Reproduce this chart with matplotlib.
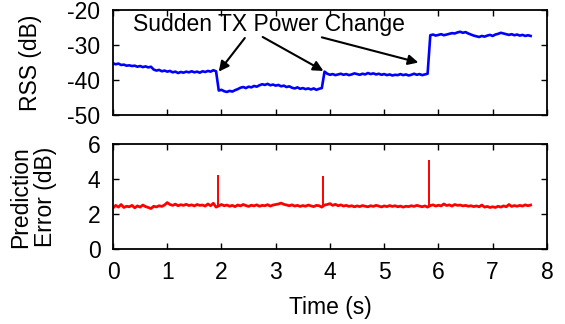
import numpy as np
from matplotlib import pyplot as plt
from matplotlib import ticker as plticker

plt.rcParams['font.family'] = ['Liberation Sans', 'DejaVu Sans']
plt.rcParams['axes.unicode_minus'] = False

# time axis, one sample every 0.05 s (0 .. 7.70)
time_s = np.round(np.arange(155) * 0.05, 2)

# received signal strength (dB)
rss_db = [
    # 0.00 - 1.90
    -35.2, -35.5, -35.3, -35.7, -35.6, -35.9, -35.8, -36.0, -35.9, -36.2,
    -36.0, -36.3, -36.1, -36.4, -36.2,
    -37.0, -37.3, -37.1, -37.5, -37.3,
    -37.6, -37.4, -37.8, -37.6, -38.0,
    -37.7, -37.9, -37.6, -37.8, -37.5,
    -37.8, -37.6, -37.9, -37.5, -37.7,
    -37.4, -37.6, -37.2, -37.5,
    # 1.95 - 3.85
    -43.0, -42.8, -43.2, -43.4, -43.1, -43.3,
    -42.9, -42.6, -42.2, -42.0,
    -42.3, -41.9, -42.1, -41.7, -41.9,
    -41.5, -41.2, -41.4, -41.1, -41.5,
    -41.3, -41.6, -41.4, -41.8, -41.6,
    -42.0, -41.8, -42.2, -42.4, -42.1,
    -42.5, -42.3, -42.6, -42.4, -42.7,
    -42.4, -42.8, -42.5, -42.3,
    # 3.90 - 5.80
    -37.6, -38.2, -38.5, -38.3, -38.6, -38.4, -38.2, -38.5, -38.3, -38.6,
    -38.4, -38.1, -38.3, -38.5, -38.2,
    -38.4, -38.0, -38.3, -38.1, -38.4,
    -38.2, -38.5, -38.3, -38.6, -38.4,
    -38.7, -38.5, -38.6, -38.3, -38.6,
    -38.4, -38.7, -38.5, -38.2, -38.5,
    -38.3, -38.6, -38.4, -38.2,
    # 5.85 - 7.70
    -27.2, -27.0, -27.3, -27.1, -26.9, -27.2,
    -27.0, -26.8, -26.6, -26.7,
    -26.4, -26.2, -26.5, -26.3,
    -26.7, -27.0, -27.3, -27.5, -27.7,
    -27.4, -27.6, -27.3, -27.1, -27.4,
    -27.0, -26.8, -26.5, -26.7, -26.9,
    -27.1, -26.9, -27.2, -27.0, -27.3,
    -27.1, -27.4, -27.2, -27.4,
]

# prediction error (dB)
err_db = [
    2.35, 2.50, 2.40, 2.55, 2.38, 2.45, 2.42, 2.50, 2.36, 2.47,
    2.40, 2.52, 2.43, 2.38, 2.32, 2.45, 2.41, 2.48, 2.44, 2.52,
    2.66, 2.55, 2.50, 2.57, 2.48, 2.54, 2.50, 2.56, 2.49, 2.53,
    2.47, 2.55, 2.50, 2.52, 2.46, 2.58, 2.48, 2.62, 2.40, 2.47,
    2.55, 2.48, 2.52, 2.45, 2.50, 2.43, 2.52, 2.47, 2.55, 2.49,
    2.44, 2.51, 2.47, 2.53, 2.45, 2.50, 2.48, 2.54, 2.46, 2.52,
    2.55, 2.58, 2.63, 2.56, 2.52, 2.48, 2.53, 2.46, 2.50, 2.44,
    2.49, 2.45, 2.52, 2.47, 2.43, 2.50, 2.48, 2.40, 2.52, 2.55,
    2.60, 2.50, 2.56, 2.48, 2.53, 2.46, 2.50, 2.44, 2.48, 2.42,
    2.47, 2.43, 2.49, 2.45, 2.42, 2.48, 2.44, 2.50, 2.46, 2.41,
    2.47, 2.43, 2.49, 2.44, 2.48, 2.42, 2.46, 2.40, 2.45, 2.43,
    2.48, 2.44, 2.50, 2.46, 2.42, 2.47, 2.40, 2.49, 2.53, 2.46,
    2.51, 2.47, 2.58, 2.49, 2.53, 2.46, 2.55, 2.50, 2.52, 2.47,
    2.50, 2.45, 2.48, 2.43, 2.47, 2.42, 2.52, 2.40, 2.44, 2.38,
    2.42, 2.38, 2.45, 2.40, 2.47, 2.42, 2.55, 2.44, 2.49, 2.45,
    2.50, 2.46, 2.53, 2.48, 2.52,
]

# error spikes at the power changes
spike_t = [1.93, 3.88, 5.83]
spike_base = [2.42, 2.42, 2.42]
spike_peak = [4.22, 4.18, 5.08]

# arrow heads / tails for the annotation
arrow_head = [(1.95, -37.6), (3.88, -37.4), (5.63, -35.0)]
arrow_tail = [(2.43, -28.0), (2.76, -27.7), (3.85, -27.8)]

fs = 16.5

fig = plt.figure(figsize=(5.65, 3.24), dpi=100)
ax1 = fig.add_axes([0.2, 0.645, 0.768, 0.324])
ax2 = fig.add_axes([0.2, 0.2315, 0.768, 0.3231])


def style_axes(ax):
    for sp in ax.spines.values():
        sp.set_linewidth(1.3)
    ax.tick_params(direction='in', top=True, right=True, length=4.5, width=1.0,
                   labelsize=fs, pad=9)
    ax.set_xlim(0, 8)
    ax.xaxis.set_major_locator(plticker.MultipleLocator(1))


# top panel
ax1.plot(time_s, rss_db, color='#0000ff', linewidth=1.9)
style_axes(ax1)
ax1.set_ylim(-50, -20)
ax1.yaxis.set_major_locator(plticker.MultipleLocator(10))
ax1.tick_params(labelbottom=False)
ax1.set_ylabel('RSS (dB)', fontsize=fs, labelpad=18)

ax1.text(2.88, -24.0, 'Sudden TX Power Change', fontsize=fs,
         ha='center', va='center')
for head, tail in zip(arrow_head, arrow_tail):
    ax1.annotate('', xy=head, xytext=tail,
                 arrowprops=dict(arrowstyle='-|>', color='black', lw=1.5,
                                 mutation_scale=15, shrinkA=0, shrinkB=0))

# bottom panel
ax2.plot(time_s, err_db, color='#ff0000', linewidth=2.0)
ax2.vlines(spike_t, spike_base, spike_peak, color='#ff0000', linewidth=1.4)
style_axes(ax2)
ax2.set_ylim(0, 6)
ax2.yaxis.set_major_locator(plticker.MultipleLocator(2))
ax2.set_ylabel('Prediction\nError (dB)', fontsize=fs, labelpad=22,
               linespacing=1.1)
ax2.set_xlabel('Time (s)', fontsize=fs, labelpad=8)

fig.savefig('out.png', dpi=100)
plt.close(fig)
